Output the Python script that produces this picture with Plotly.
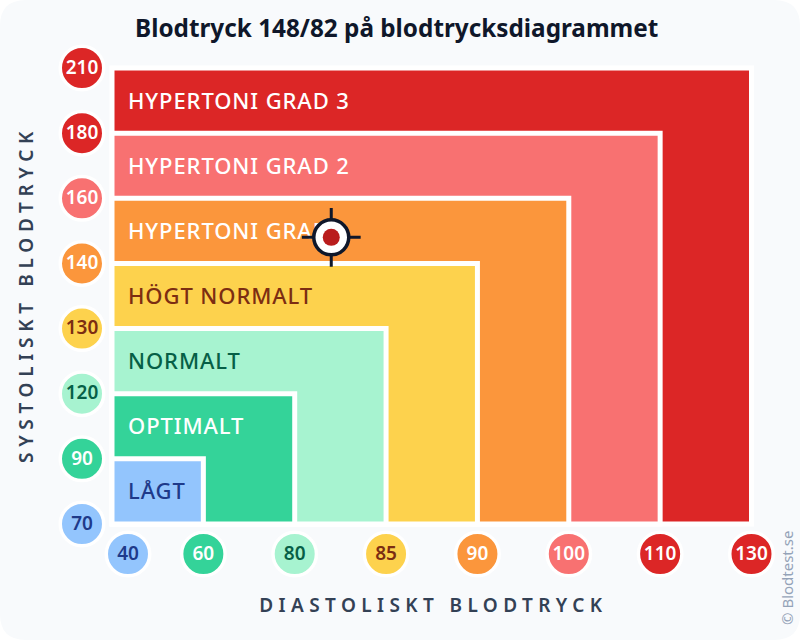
import json

import numpy as np
import plotly.graph_objects as go

diastolic_ticks = [40, 60, 80, 85, 90, 100, 110, 130]
systolic_ticks = [70, 90, 120, 130, 140, 160, 180, 210]
tick_fill = ["#93c5fd", "#34d399", "#a7f3d0", "#fdd24d", "#fb963c", "#f87171", "#dc2626", "#dc2626"]
tick_text = ["#1e3a8a", "#ffffff", "#065f46", "#7c2d12", "#ffffff", "#ffffff", "#ffffff", "#ffffff"]

zone_names = ["LÅGT", "OPTIMALT", "NORMALT", "HÖGT NORMALT", "HYPERTONI GRAD 1", "HYPERTONI GRAD 2", "HYPERTONI GRAD 3"]
zone_fill = ["#93c5fd", "#34d399", "#a7f3d0", "#fdd24d", "#fb963c", "#f87171", "#dc2626"]
zone_text = ["#1e3a8a", "#ffffff", "#065f46", "#7c2d12", "#ffffff", "#ffffff", "#ffffff"]

systolic_value = 148
diastolic_value = 82

FONT = "Noto Sans"
W, H = 800, 640
L, R, T, B = 112, 751.5, 68, 524

n = len(zone_names)
x_step = (R - L) / n
y_step = (B - T) / n

x_pos = list(range(len(diastolic_ticks)))
y_pos = list(range(len(systolic_ticks)))
x_pos[0] = 16 / x_step  # first x badge is nudged in from the corner
badge_row = -30 / y_step
badge_col = -30 / x_step
text_drop = 1 / y_step  # Noto sits a touch high in its line box

fig = go.Figure()

# biggest zone first so the smaller ones stack on top
for i in range(n - 1, -1, -1):
    fig.add_trace(
        go.Bar(
            x=[0],
            y=[i + 1],
            width=[i + 1],
            offset=0,
            base=0,
            marker=dict(color=zone_fill[i], line=dict(color="white", width=5)),
            hoverinfo="skip",
        )
    )

fig.add_trace(
    go.Scatter(
        x=[16 / x_step] * n,
        y=[i + 0.5 - 2.5 * text_drop for i in range(n)],
        mode="text",
        text=zone_names,
        textposition="middle right",
        textfont=dict(family=FONT, size=22, color=zone_text, weight=500),
        hoverinfo="skip",
    )
)

# badges along the axes
badge_marker = dict(size=43.5, color=tick_fill, line=dict(color="white", width=3.5))
badge_font = dict(family=FONT, size=19, color=tick_text, weight=600)
fig.add_trace(go.Scatter(x=x_pos, y=[badge_row] * len(x_pos), mode="markers", marker=badge_marker))
fig.add_trace(go.Scatter(x=[badge_col] * len(y_pos), y=y_pos, mode="markers", marker=badge_marker))
fig.add_trace(
    go.Scatter(
        x=x_pos,
        y=[badge_row - text_drop] * len(x_pos),
        mode="text",
        text=[str(v) for v in diastolic_ticks],
        textposition="middle center",
        textfont=badge_font,
    )
)
fig.add_trace(
    go.Scatter(
        x=[badge_col] * len(y_pos),
        y=[v - text_drop for v in y_pos],
        mode="text",
        text=[str(v) for v in systolic_ticks],
        textposition="middle center",
        textfont=badge_font,
    )
)

# reading position, placed between the ticks
point_x = np.interp(diastolic_value, diastolic_ticks, range(len(diastolic_ticks)))
point_y = np.interp(systolic_value, systolic_ticks, y_pos)
fig.add_trace(
    go.Scatter(
        x=[point_x],
        y=[point_y],
        mode="markers",
        marker=dict(symbol="cross-thin", size=42, line=dict(color="#0f172a", width=3)),
    )
)
fig.add_trace(
    go.Scatter(
        x=[point_x],
        y=[point_y],
        mode="markers",
        marker=dict(size=35, color="white", line=dict(color="#0f172a", width=3.5)),
    )
)
fig.add_trace(
    go.Scatter(
        x=[point_x],
        y=[point_y],
        mode="markers",
        marker=dict(size=17, color="#b91c1c"),
    )
)

fig.add_annotation(
    x=396 / W, y=1 - 27 / H, xref="paper", yref="paper", xanchor="center", yanchor="middle",
    text="Blodtryck 148/82 på blodtrycksdiagrammet",
    showarrow=False, font=dict(family=FONT, size=24.3, color="#0f172a", weight=700),
)
fig.add_annotation(
    x=433 / W, y=1 - 605 / H, xref="paper", yref="paper", xanchor="center", yanchor="middle",
    text="DIASTOLISKT BLODTRYCK",
    showarrow=False, font=dict(family=FONT, size=19, color="#334155", weight=600),
)
fig.add_annotation(
    x=26 / W, y=1 - 294 / H, xref="paper", yref="paper", xanchor="center", yanchor="middle",
    text="SYSTOLISKT BLODTRYCK", textangle=-90,
    showarrow=False, font=dict(family=FONT, size=19, color="#334155", weight=600),
)
fig.add_annotation(
    x=787 / W, y=1 - 578 / H, xref="paper", yref="paper", xanchor="center", yanchor="middle",
    text="© Blodtest.se", textangle=-90,
    showarrow=False, font=dict(family=FONT, size=15, color="#94a3b8"),
)

# rounded card behind everything
r = 26
card = (
    f"M {r / W} 1 L {1 - r / W} 1 Q 1 1 1 {1 - r / H} "
    f"L 1 {r / H} Q 1 0 {1 - r / W} 0 "
    f"L {r / W} 0 Q 0 0 0 {r / H} "
    f"L 0 {1 - r / H} Q 0 1 {r / W} 1 Z"
)
fig.add_shape(type="path", path=card, xref="paper", yref="paper", fillcolor="#f8fafc", line_width=0, layer="below")

fig.update_layout(
    width=W,
    height=H,
    margin=dict(l=0, r=0, t=0, b=0),
    barmode="overlay",
    showlegend=False,
    paper_bgcolor="white",
    plot_bgcolor="rgba(0,0,0,0)",
    xaxis=dict(range=[-L / x_step, (W - L) / x_step], visible=False, fixedrange=True),
    yaxis=dict(range=[-(H - B) / y_step, B / y_step], visible=False, fixedrange=True),
)

# plotly has no letter spacing option, and the page body keeps a default margin
spacing = {name: "0.9px" for name in zone_names}
spacing["DIASTOLISKT BLODTRYCK"] = "5.4px"
spacing["SYSTOLISKT BLODTRYCK"] = "5.7px"
post = (
    "document.body.style.margin='0';"
    f"var sp={json.dumps(spacing)};"
    "document.querySelectorAll('svg text').forEach(function(t){"
    "var s=sp[t.textContent];if(s){t.style.letterSpacing=s;}});"
)

fig.write_html("out.html", post_script=post, config=dict(displayModeBar=False))
